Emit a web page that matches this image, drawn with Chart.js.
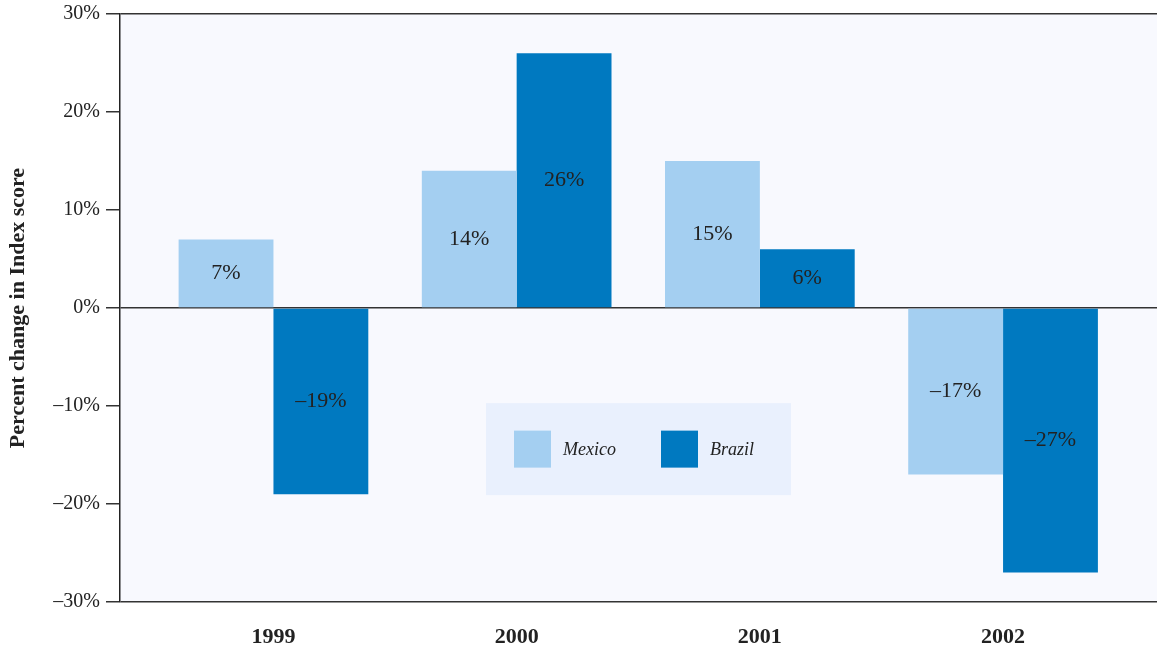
<!DOCTYPE html>
<html>
<head>
<meta charset="utf-8">
<script src="https://cdn.jsdelivr.net/npm/chart.js@4"></script>
<style>
  html, body { margin: 0; padding: 0; background: #ffffff; }
  #wrap { width: 1157px; height: 648px; position: relative; }
</style>
</head>
<body>
<div id="wrap"><canvas id="chart"></canvas></div>
<script>
// chart data
var years = ['1999', '2000', '2001', '2002'];
var mexico = [7, 14, 15, -17];
var brazil = [-19, 26, 6, -27];
var yTicks = [30, 20, 10, 0, -10, -20, -30];

var SERIF = "'Liberation Serif', 'DejaVu Serif', serif";
var MEXICO_COLOR = '#a4cff1';
var BRAZIL_COLOR = '#0079c0';

function pct(v) {
    return (v < 0 ? '\u2013' + Math.abs(v) : v) + '%';
}

function toPoints(values) {
    return values.map(function (v, i) { return { x: i + 1, y: v }; });
}

// plot background
var plotBackground = {
    id: 'plotBackground',
    beforeDraw: function (chart) {
        var a = chart.chartArea, ctx = chart.ctx;
        ctx.save();
        ctx.fillStyle = '#f8f9fe';
        ctx.fillRect(a.left, a.top, a.right - a.left, a.bottom - a.top);
        ctx.restore();
    }
};

// value labels in the middle of each bar
var barLabels = {
    id: 'barLabels',
    afterDatasetsDraw: function (chart) {
        var ctx = chart.ctx;
        ctx.save();
        ctx.font = '22px ' + SERIF;
        ctx.fillStyle = '#222222';
        ctx.textAlign = 'center';
        ctx.textBaseline = 'middle';
        chart.data.datasets.forEach(function (ds, di) {
            chart.getDatasetMeta(di).data.forEach(function (bar, i) {
                var yMid = (bar.y + bar.base) / 2;
                ctx.fillText(pct(ds.data[i].y), bar.x, yMid);
            });
        });
        ctx.restore();
    }
};

// legend box inside the plot
var boxLegend = {
    id: 'boxLegend',
    afterDatasetsDraw: function (chart) {
        var a = chart.chartArea, ctx = chart.ctx;
        var w = 305, h = 92;
        var cx = (a.left + a.right) / 2;
        var cy = a.top + (a.bottom - a.top) * 0.74;
        var left = cx - w / 2, top = cy - h / 2;
        ctx.save();
        ctx.fillStyle = '#e9f0fd';
        ctx.fillRect(left, top, w, h);
        ctx.font = 'italic 18px ' + SERIF;
        ctx.textBaseline = 'middle';
        ctx.textAlign = 'left';
        var x = left + 28;
        chart.data.datasets.forEach(function (ds) {
            ctx.fillStyle = ds.backgroundColor;
            ctx.fillRect(x, cy - 18.5, 37, 37);
            ctx.fillStyle = '#222222';
            ctx.fillText(ds.label, x + 49, cy + 1);
            x += 147;
        });
        ctx.restore();
    }
};

new Chart(document.getElementById('chart'), {
    type: 'bar',
    data: {
        datasets: [
            { label: 'Mexico', data: toPoints(mexico), backgroundColor: MEXICO_COLOR },
            { label: 'Brazil', data: toPoints(brazil), backgroundColor: BRAZIL_COLOR }
        ]
    },
    options: {
        responsive: true,
        maintainAspectRatio: false,
        animation: false,
        layout: { padding: { top: 14, right: 0, left: 0, bottom: 0 } },
        categoryPercentage: 0.78,
        barPercentage: 1.0,
        plugins: {
            legend: { display: false },
            tooltip: { enabled: false }
        },
        scales: {
            x: {
                type: 'linear',
                min: 0.369,
                max: 4.633,
                offset: false,
                grid: { display: false },
                border: { display: false },
                afterBuildTicks: function (axis) {
                    axis.ticks = years.map(function (y, i) { return { value: i + 1 }; });
                },
                afterFit: function (scale) {
                    scale.height = 46;
                    scale.paddingLeft = 0;
                    scale.paddingRight = 0;
                },
                ticks: {
                    autoSkip: false,
                    maxRotation: 0,
                    padding: 14,
                    color: '#222222',
                    font: { family: SERIF, size: 22, weight: 'bold' },
                    callback: function (v) { return years[v - 1] || ''; }
                }
            },
            y: {
                min: -30,
                max: 30,
                afterBuildTicks: function (axis) {
                    axis.ticks = yTicks.map(function (v) { return { value: v }; });
                },
                afterFit: function (scale) {
                    scale.width = 120;
                    scale.paddingTop = 0;
                    scale.paddingBottom = 0;
                },
                border: { display: true, color: '#222222', width: 1.5 },
                grid: {
                    color: function (ctx) {
                        var v = ctx.tick && ctx.tick.value;
                        return (v === 30 || v === 0 || v === -30) ? '#333333' : 'rgba(0,0,0,0)';
                    },
                    tickColor: '#333333',
                    tickLength: 14,
                    lineWidth: 1.5
                },
                ticks: {
                    padding: 6,
                    color: '#222222',
                    font: { family: SERIF, size: 20 },
                    callback: function (v) { return pct(v); }
                },
                title: {
                    display: true,
                    text: 'Percent change in Index score',
                    color: '#222222',
                    font: { family: SERIF, size: 22, weight: 'bold' },
                    padding: { top: 5, bottom: 0 }
                }
            }
        }
    },
    plugins: [plotBackground, barLabels, boxLegend]
});
</script>
</body>
</html>
